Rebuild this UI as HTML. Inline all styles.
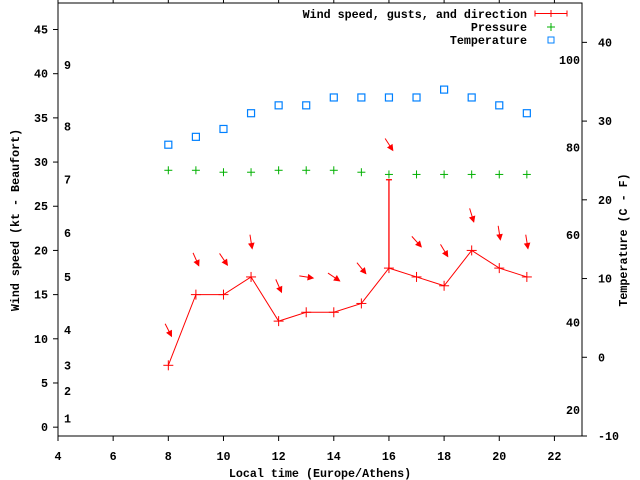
<!DOCTYPE html>
<html><head><meta charset="utf-8"><style>
html,body{margin:0;padding:0;background:#fff;}
svg{display:block;font-family:"Liberation Mono",monospace;font-weight:bold;font-size:11.7px;}
</style></head><body>
<svg id="chart" width="640" height="480" viewBox="0 0 640 480" xmlns="http://www.w3.org/2000/svg">
<rect x="0" y="0" width="640" height="480" fill="#fff"/>
<g id="axes"></g>
<g id="series"></g>
<g id="legend">
  <text x="527" y="18" text-anchor="end">Wind speed, gusts, and direction</text>
  <g stroke="#f00" stroke-width="1">
    <line x1="535" y1="13.5" x2="567" y2="13.5"/><line x1="535" y1="10.5" x2="535" y2="16.5"/><line x1="567" y1="10.5" x2="567" y2="16.5"/>
    <line x1="551" y1="10" x2="551" y2="17"/>
  </g>
  <text x="527" y="31" text-anchor="end">Pressure</text>
  <g stroke="#00b000"><line x1="547" y1="27" x2="555" y2="27"/><line x1="551" y1="23" x2="551" y2="31"/></g>
  <text x="527" y="44" text-anchor="end">Temperature</text>
  <rect x="548" y="37" width="6" height="6" fill="none" stroke="#0080ff"/>
</g>
<text x="320" y="477" text-anchor="middle">Local time (Europe/Athens)</text>
<text transform="translate(19,220) rotate(-90)" text-anchor="middle">Wind speed (kt - Beaufort)</text>
<text transform="translate(627,240) rotate(-90)" text-anchor="middle">Temperature (C - F)</text>
</svg>
<script>
const hours = [8,9,10,11,12,13,14,15,16,17,18,19,20,21];
const windSpeed = [7,15,15,17,12,13,13,14,18,17,16,20,18,17];
const windGust = [7,15,15,17,12,13,13,14,28,17,16,20,18,17];
const windDir = [333,336,326,351,336,279,304,321,327,318,329,343,351,351];
const pressure = [29.07,29.07,28.85,28.85,29.07,29.07,29.07,28.85,28.6,28.6,28.6,28.6,28.6,28.6];
const temperature = [27,28,29,31,32,32,33,33,33,33,34,33,32,31];
const xTicks = [4,6,8,10,12,14,16,18,20,22];
const yTicks = [0,5,10,15,20,25,30,35,40,45];
const y2Ticks = [-10,0,10,20,30,40];
const fTicks = [20,40,60,80,100];
const beaufortLabels = ["1","2","3","4","5","6","7","8","9"];
const beaufortKt = [1,4.1,7,11,17,22,28,34,41];

const L=58,R=582,T=3,B=436;
const X=v=>L+(v-4)/(23-4)*(R-L);
const Y=v=>B-(v+1)/(48+1)*(B-T);
const Y2=v=>B-(v+10)/(45+10)*(B-T);
const NS="http://www.w3.org/2000/svg";
function mk(tag,attrs,parent){const e=document.createElementNS(NS,tag);for(const k in attrs)e.setAttribute(k,attrs[k]);parent.appendChild(e);return e;}
const ax=document.getElementById('axes'), sr=document.getElementById('series');

const frame=mk('rect',{x:L,y:T,width:R-L,height:B-T,fill:'none',stroke:'#000','stroke-width':1},ax);


xTicks.forEach(v=>{
  const x=X(v);
  const t1=mk('line',{x1:x,y1:B,x2:x,y2:B+5,stroke:'#000'},ax);
  
  
  const t2=mk('line',{x1:x,y1:T,x2:x,y2:T-5,stroke:'#000'},ax);
  
  
  const tx=mk('text',{x:x,y:460,'text-anchor':'middle'},ax);tx.textContent=v;
  
  
});
yTicks.forEach(v=>{
  const y=Y(v);
  const t=mk('line',{x1:L-5,y1:y,x2:L,y2:y,stroke:'#000'},ax);
  
  
  const tx=mk('text',{x:48,y:y+4,'text-anchor':'end'},ax);tx.textContent=v;
  
  
});
y2Ticks.forEach(v=>{
  const y=Y2(v);
  const t=mk('line',{x1:R,y1:y,x2:R+5,y2:y,stroke:'#000'},ax);
  
  
  const tx=mk('text',{x:598,y:y+4,'text-anchor':'start'},ax);tx.textContent=v;
  
  
});
fTicks.forEach(v=>{
  const y=Y2((v-32)*5/9);
  const tx=mk('text',{x:580,y:y+4,'text-anchor':'end'},ax);tx.textContent=v;
  
  
});
beaufortLabels.forEach((s,i)=>{
  const tx=mk('text',{x:64,y:Y(beaufortKt[i])+4},ax);tx.textContent=s;
  
  
});

// wind line
const pl=mk('polyline',{points:hours.map((h,i)=>X(h)+','+Y(windSpeed[i])).join(' '),fill:'none',stroke:'#f00','stroke-width':1},sr);


hours.forEach((h,i)=>{
  const x=X(h),y=Y(windSpeed[i]);
  const g=mk('g',{stroke:'#f00','stroke-width':1},sr);
  
  
  mk('line',{x1:x-5,y1:y,x2:x+5,y2:y},g);mk('line',{x1:x,y1:y-5,x2:x,y2:y+5},g);
  if(windGust[i]>windSpeed[i]){
    const yg=Y(windGust[i]);
    const eb=mk('g',{stroke:'#f00','stroke-width':1.3},sr);
    
    
    mk('line',{x1:x,y1:y,x2:x,y2:yg},eb);mk('line',{x1:x-3,y1:yg,x2:x+3,y2:yg},eb);
  }
  // direction arrow
  const cy=Y(Math.max(windSpeed[i],windGust[i])+4);
  const b=(windDir[i]+180)*Math.PI/180, len=14;
  const dx=Math.sin(b)*len/2, dy=-Math.cos(b)*len/2;
  const x1=x-dx,y1=cy-dy,x2=x+dx,y2=cy+dy;
  const a=mk('g',{},sr);
  
  
  mk('line',{x1:x1,y1:y1,x2:x2,y2:y2,stroke:'#f00','stroke-width':1},a);
  const ux=dx*2/len,uy=dy*2/len,px=-uy,py=ux;
  const bx=x2-ux*5,by=y2-uy*5;
  mk('polygon',{points:`${x2},${y2} ${bx+px*2.5},${by+py*2.5} ${bx-px*2.5},${by-py*2.5}`,fill:'#f00',stroke:'#f00'},a);
});
hours.forEach((h,i)=>{
  const x=X(h),y=Y(pressure[i]);
  const g=mk('g',{stroke:'#00b000','stroke-width':1},sr);
  
  
  mk('line',{x1:x-4,y1:y,x2:x+4,y2:y},g);mk('line',{x1:x,y1:y-4,x2:x,y2:y+4},g);
});
hours.forEach((h,i)=>{
  const x=X(h),y=Y2(temperature[i]);
  const r=mk('rect',{x:x-3.5,y:y-3.5,width:7,height:7,fill:'none',stroke:'#0080ff','stroke-width':1.2},sr);
  
  
});
</script>
</body></html>
